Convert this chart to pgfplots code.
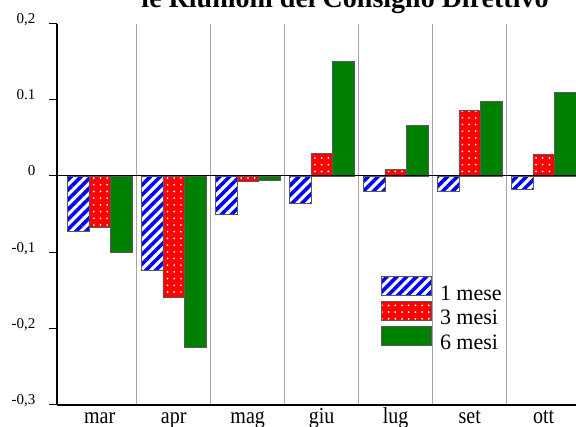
\documentclass[border=0pt]{standalone}
\usepackage{fontspec}
\setmainfont{Liberation Serif}
\usepackage{graphicx}
\usepackage{pgfplots}
\usepackage{pgfplotstable}
\pgfplotsset{compat=1.18}
\usetikzlibrary{patterns.meta}

\definecolor{barblue}{RGB}{0,0,255}
\definecolor{barred}{RGB}{255,0,0}
\definecolor{bargreen}{RGB}{0,128,0}
\definecolor{gridgray}{RGB}{165,165,165}

% variazioni per scadenza (1, 3 e 6 mesi)
\pgfplotstableread{
idx  m1      m3      m6
0   -0.073  -0.068  -0.100
1   -0.124  -0.159  -0.225
2   -0.051  -0.007  -0.006
3   -0.036   0.029   0.150
4   -0.020   0.0085  0.066
5   -0.020   0.086   0.098
6   -0.018   0.028   0.110
}\datatable

\newcommand{\tall}[1]{\scalebox{1}[1.15]{#1}}

\pgfplotsset{
  boxlegend/.style={legend image code/.code={\draw[##1] (0pt,-2pt) rectangle (50pt,17pt);}},
}

\begin{document}
\begin{tikzpicture}
\begin{axis}[
  name=ax,
  scale only axis,
  width=523.7pt, height=381pt,
  xmin=-0.577, xmax=6.5,
  ymin=-0.3, ymax=0.2,
  ybar=0pt, bar width=21.5pt,
  axis x line*=bottom, axis y line*=left,
  axis line style={-},
  x axis line style={line width=2pt},
  y axis line style={line width=1.3pt},
  xtick={0,1,2,3,4,5,6},
  xticklabels={\tall{mar},\tall{apr},\tall{mag},\tall{giu},\tall{lug},\tall{set},\tall{ott}},
  x tick style={draw=none},
  minor xtick={0.5,1.5,2.5,3.5,4.5,5.5},
  minor tick length=0pt,
  xminorgrids,
  minor x grid style={gridgray, line width=1pt},
  ytick={-0.3,-0.2,-0.1,0,0.1,0.2},
  yticklabels={{-0,3},{-0,2},{-0,1},0,0.1,{0,2}},
  tick align=outside,
  major tick length=8pt,
  y tick style={black, line width=1pt},
  yticklabel style={font=\fontsize{15}{18}\selectfont, anchor=base east, xshift=-10pt},
  xticklabel style={font=\fontsize{20}{24}\selectfont, anchor=base, yshift=-11pt},
  legend style={at={(axis description cs:0.6187,0.3373)}, anchor=north west,
    draw=none, fill=none, font=\fontsize{22}{24}\selectfont,
    inner sep=0pt, row sep=-0.6pt, nodes={inner sep=0pt}},
  legend cell align=left,
  clip=false,
]
\addplot[boxlegend, draw=black!65, line width=0.8pt, preaction={fill=white},
  pattern={Lines[angle=45, distance=7pt, line width=3.6pt]}, pattern color=barblue]
  table[x=idx, y=m1] {\datatable};
\addlegendentry{\hspace{8pt}1 mese}
\addplot[boxlegend, draw=black!65, line width=0.8pt, preaction={fill=barred},
  pattern={Dots[radius=1pt, distance=6.7pt]}, pattern color=white]
  table[x=idx, y=m3] {\datatable};
\addlegendentry{\hspace{8pt}3 mesi}
\addplot[boxlegend, draw=black!65, line width=0.8pt, fill=bargreen]
  table[x=idx, y=m6] {\datatable};
\addlegendentry{\hspace{8pt}6 mesi}
\draw[black, line width=1pt] (rel axis cs:0,0.6) -- (rel axis cs:1,0.6);
\end{axis}
\node[font=\bfseries\fontsize{28}{30}\selectfont, anchor=base]
  at ([xshift=288pt, yshift=396.5pt]ax.south west) {le Riunioni del Consiglio Direttivo};
\pgfresetboundingbox
\useasboundingbox ([xshift=-57pt,yshift=-21.5pt]ax.south west) rectangle ([xshift=519pt,yshift=404.5pt]ax.south west);
\end{tikzpicture}
\end{document}
